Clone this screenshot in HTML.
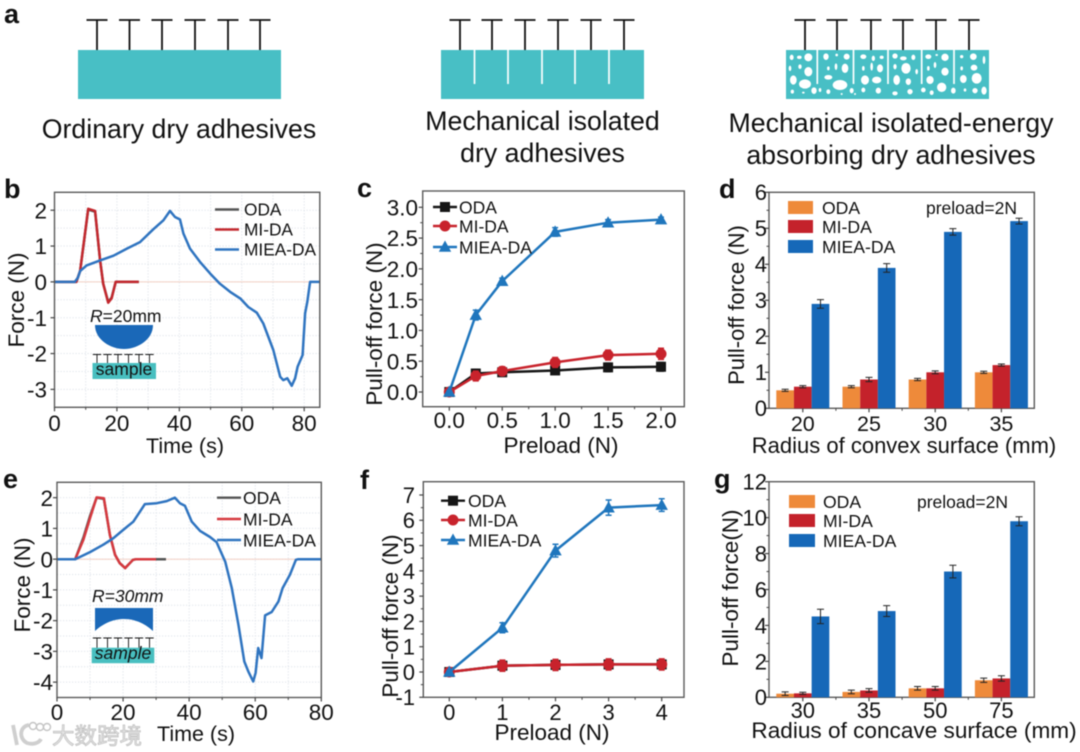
<!DOCTYPE html>
<html lang="en">
<head>
<meta charset="utf-8">
<title>Dry adhesive pull-off force figure</title>
<style>
html,body{margin:0;padding:0;background:#fff;width:1080px;height:752px;overflow:hidden}
svg{display:block;filter:blur(0.45px)}
text{font-family:"Liberation Sans","Noto Sans CJK SC",sans-serif;fill:#111}
</style>
</head>
<body>
<svg id="fig" xmlns="http://www.w3.org/2000/svg" width="1080" height="752" viewBox="0 0 1080 752">
  <rect width="1080" height="752" fill="#fff"/>
  <text x="4" y="23" font-size="27" font-weight="bold">a</text>
  <text x="4" y="198" font-size="27" font-weight="bold">b</text>
  <text x="357" y="197" font-size="27" font-weight="bold">c</text>
  <text x="719" y="198" font-size="27" font-weight="bold">d</text>
  <text x="3" y="488" font-size="27" font-weight="bold">e</text>
  <text x="360" y="489" font-size="27" font-weight="bold">f</text>
  <text x="714" y="488" font-size="27" font-weight="bold">g</text>

  <text x="179" y="138" font-size="26.7" text-anchor="middle">Ordinary dry adhesives</text>
  <text x="542.5" y="130" font-size="26.7" text-anchor="middle">Mechanical isolated</text>
  <text x="542.5" y="162" font-size="26.7" text-anchor="middle">dry adhesives</text>
  <text x="891" y="132" font-size="26.7" text-anchor="middle">Mechanical isolated-energy</text>
  <text x="891" y="164" font-size="26.7" text-anchor="middle">absorbing dry adhesives</text>

  <g id="schematics"></g>

  <g id="charts"></g>

  <g>
    <text x="90" y="322" font-size="17.5"><tspan font-style="italic">R</tspan>=20mm</text>
    <path d="M95,325 H153 C153,340 137,349 124,349 C111,349 95,340 95,325 Z" fill="#1a68b8"/>
    <rect x="92.5" y="363" width="63.5" height="16" fill="#48bfc0"/>
    <text x="124" y="375" font-size="17.5" text-anchor="middle">sample</text>
    <g id="insetT1"></g>
  </g>
  <g>
    <text x="92" y="602" font-size="17.5" font-style="italic">R=30mm</text>
    <path d="M95,608 H153 V631 C143,622 133,619 124,619 C115,619 105,622 95,631 Z" fill="#1a68b8"/>
    <rect x="91.7" y="647.7" width="62.6" height="15.5" fill="#48bfc0"/>
    <text x="123" y="659" font-size="17.5" font-style="italic" text-anchor="middle">sample</text>
    <g id="insetT2"></g>
  </g>

  <g>
    <path d="M13,725 L17,745 M29,725 C20,726 18,738 27,743 C33,745 39,743 41,739" fill="none" stroke="#cfcfcf" stroke-width="3.8"/>
    <circle cx="33" cy="726" r="3.5" fill="#fff" stroke="#c4c4c4" stroke-width="1.4"/>
    <circle cx="40" cy="727" r="3.5" fill="#fff" stroke="#c4c4c4" stroke-width="1.4"/>
    <circle cx="47" cy="727" r="3.5" fill="#fff" stroke="#c4c4c4" stroke-width="1.4"/>
    <text x="52" y="744" font-size="22.5" style="fill:#e6e6e6;stroke:#bdbdbd;stroke-width:.7">大数跨境</text>
  </g>
</svg>
<script>
/* ---------- panel b data ---------- */
const bOdaTime = [0,7,8.2,10.8,13,14.6,15.6,17.2,18.3,19.6,27];
const bOdaForce = [0,0,.3,2.02,1.96,.6,-.05,-.56,-.44,0,0];
const bMiTime = [0,7,8.2,10.8,13,14.6,15.6,17.2,18.3,19.6,27];
const bMiForce = [0,0,.3,2.04,1.98,.6,-.05,-.58,-.46,0,0];
const bMieaTime = [0,6.5,7.5,8.2,10.3,14.6,18.9,23.2,27.4,31.7,34.9,37,38.6,40.2,41.3,43.4,46.6,49.9,53,56.3,59.5,62.1,64.8,66.9,70.1,72.3,73.3,74.6,76,77.1,77.9,79.5,80.3,81,81.9,85];
const bMieaForce = [0,0,.12,.3,.46,.6,.73,.93,1.11,1.47,1.72,1.98,1.81,1.74,1.35,.93,.56,.23,-.05,-.28,-.46,-.7,-.86,-1.16,-1.9,-2.65,-2.74,-2.69,-2.9,-2.69,-2.37,-2.04,-.88,-.56,0,0];
const bXTicks = [0,20,40,60,80];
const bXMinor = [10,30,50,70];
const bYTicks = [2,1,0,-1,-2,-3];
const bYMinor = [2.5,1.5,.5,-.5,-1.5,-2.5,-3.5];

/* ---------- panel e data ---------- */
const eOdaTime = [0,5.5,8,10,12,14.2,16,17.6,19,20.6,23,24,33];
const eOdaForce = [0,0,.7,1.4,2,1.96,.79,.14,-.13,-.29,-.02,0,0];
const eMiTime = [0,5.5,8,10,12,14.2,16,17.6,19,20.6,23,24,30];
const eMiForce = [0,0,.63,1.33,2.01,1.98,.79,.14,-.13,-.29,-.02,0,0];
const eMieaTime = [0,5.5,10,14,17,20,23.1,26.6,30.2,33.2,35.7,37.2,38.7,40.8,43.3,46.3,48.3,50.9,52.9,54.9,56.7,57.9,59.4,60.1,60.9,61.9,63,65,67,68.3,70.5,72.3,73,80];
const eMieaForce = [0,0,.23,.47,.68,.95,1.22,1.79,1.82,1.89,2,1.82,1.74,1.22,.92,.72,.55,-.08,-.94,-2.13,-3.33,-3.65,-3.98,-3.7,-2.89,-3.22,-1.83,-1.72,-1.38,-.94,-.51,-.02,0,0];
const eXTicks = [0,20,40,60,80];
const eXMinor = [10,30,50,70];
const eYTicks = [2,1,0,-1,-2,-3,-4];
const eYMinor = [2.5,1.5,.5,-.5,-1.5,-2.5,-3.5,-4.5];

/* ---------- panel c data ---------- */
const cPreload = [0,.25,.5,1,1.5,2];
const cOda = [0,.3,.32,.35,.4,.41];
const cOdaErr = [.02,.07,.05,.05,.07,.07];
const cMi = [0,.26,.34,.48,.6,.62];
const cMiErr = [.02,.08,.07,.08,.08,.09];
const cMiea = [0,1.25,1.8,2.6,2.75,2.8];
const cMieaErr = [.02,.08,.05,.07,.05,.04];
const cXTicks = [0,.5,1,1.5,2];
const cXTickLabels = ['0.0','0.5','1.0','1.5','2.0'];
const cXMinor = [.25,.75,1.25,1.75];
const cYTicks = [0,.5,1,1.5,2,2.5,3];
const cYTickLabels = ['0.0','0.5','1.0','1.5','2.0','2.5','3.0'];
const cYMinor = [.25,.75,1.25,1.75,2.25,2.75];

/* ---------- panel f data ---------- */
const fPreload = [0,1,2,3,4];
const fOda = [0,.25,.28,.3,.3];
const fOdaErr = [.05,.15,.15,.15,.15];
const fMi = [0,.25,.28,.3,.3];
const fMiErr = [.05,.22,.22,.22,.22];
const fMiea = [0,1.75,4.8,6.5,6.6];
const fMieaErr = [.05,.2,.25,.3,.25];
const fXTicks = [0,1,2,3,4];
const fXMinor = [.5,1.5,2.5,3.5];
const fYTicks = [-1,0,1,2,3,4,5,6,7];
const fYMinor = [-.5,.5,1.5,2.5,3.5,4.5,5.5,6.5];

/* ---------- panel d data ---------- */
const dCategories = ['20','25','30','35'];
const dOda = [.5,.6,.8,1];
const dOdaErr = [.03,.03,.03,.03];
const dMi = [.6,.8,1,1.2];
const dMiErr = [.03,.06,.04,.03];
const dMiea = [2.9,3.9,4.9,5.2];
const dMieaErr = [.12,.12,.09,.08];
const dYTicks = [0,1,2,3,4,5,6];
const dYMinor = [.5,1.5,2.5,3.5,4.5,5.5];

/* ---------- panel g data ---------- */
const gCategories = ['30','35','50','75'];
const gOda = [.2,.3,.5,.95];
const gOdaErr = [.1,.1,.1,.12];
const gMi = [.22,.38,.5,1.05];
const gMiErr = [.06,.1,.1,.15];
const gMiea = [4.5,4.8,7,9.8];
const gMieaErr = [.4,.3,.35,.25];
const gYTicks = [0,2,4,6,8,10,12];
const gYMinor = [1,3,5,7,9,11];

const seriesNames = ['ODA','MI-DA','MIEA-DA'];

const NS = 'http://www.w3.org/2000/svg';
function make(tag, attrs, parent){
  const n = document.createElementNS(NS, tag);
  for (const k in attrs) n.setAttribute(k, attrs[k]);
  parent.appendChild(n);
  return n;
}
function scale(d0,d1,r0,r1){ return v => r0 + (v-d0)*(r1-r0)/(d1-d0); }
function label(parent, name, x, y, size, anchor, str, rot){
  const el = make('text', {x:x, y:y, 'font-size':size, 'text-anchor':anchor}, parent);
  
  
  if (rot) el.setAttribute('transform', 'rotate(-90 '+x+' '+y+')');
  el.textContent = str;
  return el;
}
function panelGroup(name){
  const el = make('g', {}, document.getElementById('charts'));
  
  
  return el;
}
function grid(g, p, xVals, yVals){
  xVals.forEach(v => {
    const el = make('line', {x1:p.x(v), x2:p.x(v), y1:p.top, y2:p.bottom, stroke:'#dfe4ea', 'stroke-width':1, 'stroke-dasharray':'1.2 1.8'}, g);
    
    
  });
  yVals.forEach(v => {
    const el = make('line', {x1:p.left, x2:p.right, y1:p.y(v), y2:p.y(v), stroke:'#dfe4ea', 'stroke-width':1, 'stroke-dasharray':'1.2 1.8'}, g);
    
    
  });
}
function frame(g, p){
  const el = make('rect', {x:p.left, y:p.top, width:p.right-p.left, height:p.bottom-p.top, fill:'none', stroke:'#5a5a5a', 'stroke-width':1.4}, g);
  
  
}
function xAxis(g, p, positions, labels, minor, size, base){
  positions.forEach((px,i) => {
    const t = make('line', {x1:px, x2:px, y1:p.bottom, y2:p.bottom+4, stroke:'#444', 'stroke-width':1.2}, g);
    
    
    label(g, 'x-tick-label', px, base, size, 'middle', labels[i]);
  });
  minor.forEach(px => {
    const t = make('line', {x1:px, x2:px, y1:p.bottom, y2:p.bottom+2.5, stroke:'#444', 'stroke-width':1}, g);
    
    
  });
}
function yAxis(g, p, ticks, labels, minor, size, edge){
  ticks.forEach((v,i) => {
    const t = make('line', {x1:p.left-4, x2:p.left, y1:p.y(v), y2:p.y(v), stroke:'#444', 'stroke-width':1.2}, g);
    
    
    label(g, 'y-tick-label', edge, p.y(v)+size*.36, size, 'end', labels[i]);
  });
  minor.forEach(v => {
    const t = make('line', {x1:p.left-2.5, x2:p.left, y1:p.y(v), y2:p.y(v), stroke:'#444', 'stroke-width':1}, g);
    
    
  });
}
function curve(g, p, ts, fs, color, width, name){
  const pts = ts.map((t,i) => p.x(t).toFixed(1)+','+p.y(fs[i]).toFixed(1)).join(' ');
  const el = make('polyline', {points:pts, fill:'none', stroke:color, 'stroke-width':width, 'stroke-linejoin':'round'}, g);
  
  
}
function marker(g, kind, cx, cy, color, name){
  let el;
  if (kind === 0) el = make('rect', {x:cx-5, y:cy-5, width:10, height:10, fill:color}, g);
  else if (kind === 1) el = make('circle', {cx:cx, cy:cy, r:5.5, fill:color}, g);
  else el = make('path', {d:'M'+cx+','+(cy-6.5)+' L'+(cx+6.2)+','+(cy+4.8)+' L'+(cx-6.2)+','+(cy+4.8)+' Z', fill:color}, g);
  
  
}
function pointSeries(g, p, xs, ys, errs, kind, color, name){
  curve(g, p, xs, ys, color, 2.5, name+'-line');
  xs.forEach((x,i) => {
    const cx = p.x(x), hi = p.y(ys[i]+errs[i]), lo = p.y(ys[i]-errs[i]);
    const e = make('path', {d:'M'+cx+','+hi+' V'+lo+' M'+(cx-3)+','+hi+' H'+(cx+3)+' M'+(cx-3)+','+lo+' H'+(cx+3), fill:'none', stroke:color, 'stroke-width':1.5}, g);
    
    
    marker(g, kind, cx, p.y(ys[i]), color, name+'-point');
  });
}
function lineLegend(g, x0, x1, textX, rows, size, colors, kinds){
  seriesNames.forEach((n,i) => {
    const l = make('line', {x1:x0, x2:x1, y1:rows[i], y2:rows[i], stroke:colors[i], 'stroke-width':2.4}, g);
    
    
    if (kinds) marker(g, kinds[i], (x0+x1)/2, rows[i], colors[i], 'legend-marker-'+n.toLowerCase());
    label(g, 'legend-label-'+n.toLowerCase(), textX, rows[i]+size*.36, size, 'start', n);
  });
}
function barChart(g, p, cats, sets, errs, colors, tickSize, tickBase){
  const groupLeft = 776.3, groupStep = 66.2, barW = 17.67;
  const centers = cats.map((c,i) => groupLeft + i*groupStep + barW*1.5);
  const minors = cats.map((c,i) => groupLeft + i*groupStep + barW*3 + (groupStep-barW*3)/2).slice(0,3);
  xAxis(g, p, centers, cats, minors, tickSize, tickBase);
  sets.forEach((vals,s) => {
    vals.forEach((v,i) => {
      const x = groupLeft + i*groupStep + s*barW;
      const b = make('rect', {x:x, y:p.y(v), width:barW, height:p.y(0)-p.y(v), fill:colors[s]}, g);
      
      
      const cx = x+barW/2, hi = p.y(v+errs[s][i]), lo = p.y(Math.max(0,v-errs[s][i]));
      const e = make('path', {d:'M'+cx+','+hi+' V'+lo+' M'+(cx-3.5)+','+hi+' H'+(cx+3.5)+' M'+(cx-3.5)+','+lo+' H'+(cx+3.5), fill:'none', stroke:'#222', 'stroke-width':1}, g);
      
      
    });
  });
}
function barLegend(g, x, w, h, tops, textX, size, colors){
  seriesNames.forEach((n,i) => {
    const r = make('rect', {x:x, y:tops[i], width:w, height:h, fill:colors[i]}, g);
    
    
    label(g, 'legend-label-'+n.toLowerCase(), textX, tops[i]+h/2+size*.36, size, 'start', n);
  });
}

/* ---------- panel b ---------- */
(function(){
  const g = panelGroup('force-time-chart-b');
  const p = {left:54.5, right:319.8, top:192.3, bottom:407.3};
  p.x = scale(0,85,p.left,p.right); p.y = scale(-3.5,2.5,p.bottom,p.top);
  grid(g, p, bXTicks.concat(bXMinor), bYTicks.concat(bYMinor));
  curve(g, p, [0,85], [0,0], '#f3d0c4', 1, 'zero-reference-line');
  curve(g, p, bOdaTime, bOdaForce, '#555555', 2.5, 'series-oda');
  curve(g, p, bMiTime, bMiForce, '#c3282e', 2.5, 'series-mi-da');
  curve(g, p, bMieaTime, bMieaForce, '#2f74c0', 2.5, 'series-miea-da');
  frame(g, p);
  xAxis(g, p, bXTicks.map(p.x), bXTicks.map(String), bXMinor.map(p.x), 22.5, 431);
  yAxis(g, p, bYTicks, bYTicks.map(String), [], 22.5, 47);
  label(g, 'x-axis-title', 185, 453, 21.5, 'middle', 'Time (s)');
  label(g, 'y-axis-title', 24, 300, 22.5, 'middle', 'Force (N)', true);
  lineLegend(g, 215, 239, 244, [209.5,229.5,249.5], 17.3, ['#555555','#c3282e','#2f74c0']);
})();

/* ---------- panel e ---------- */
(function(){
  const g = panelGroup('force-time-chart-e');
  const p = {left:57, right:321.3, top:482.3, bottom:697.5};
  p.x = scale(0,80,p.left,p.right); p.y = scale(-4.5,2.5,p.bottom,p.top);
  grid(g, p, eXTicks.concat(eXMinor), eYTicks.concat(eYMinor));
  curve(g, p, [0,80], [0,0], '#f3d0c4', 1, 'zero-reference-line');
  curve(g, p, eOdaTime, eOdaForce, '#555555', 2.5, 'series-oda');
  curve(g, p, eMiTime, eMiForce, '#d6393f', 2.5, 'series-mi-da');
  curve(g, p, eMieaTime, eMieaForce, '#2f74c0', 2.5, 'series-miea-da');
  frame(g, p);
  xAxis(g, p, eXTicks.map(p.x), eXTicks.map(String), eXMinor.map(p.x), 22.5, 720);
  yAxis(g, p, eYTicks, eYTicks.map(String), [], 22.5, 53);
  label(g, 'x-axis-title', 196, 741, 21.5, 'middle', 'Time (s)');
  label(g, 'y-axis-title', 30, 585, 22.5, 'middle', 'Force (N)', true);
  lineLegend(g, 217, 241, 243, [497.7,519,540], 17.5, ['#555555','#d6393f','#2f74c0']);
})();

/* ---------- panel c ---------- */
(function(){
  const g = panelGroup('pull-off-chart-c');
  const p = {left:422.7, right:684.3, top:191, bottom:406.7};
  const sx = scale(0,2,449.3,661), sy = scale(0,3,392,207.3);
  p.x = sx; p.y = sy;
  frame(g, p);
  xAxis(g, p, cXTicks.map(sx), cXTickLabels, cXMinor.map(sx), 22.5, 428);
  yAxis(g, p, cYTicks, cYTickLabels, cYMinor, 22.5, 418);
  pointSeries(g, p, cPreload, cOda, cOdaErr, 0, '#161616', 'series-oda');
  pointSeries(g, p, cPreload, cMi, cMiErr, 1, '#c8232c', 'series-mi-da');
  pointSeries(g, p, cPreload, cMiea, cMieaErr, 2, '#1f76bd', 'series-miea-da');
  label(g, 'x-axis-title', 561, 453, 22.5, 'middle', 'Preload (N)');
  label(g, 'y-axis-title', 382, 324, 22.5, 'middle', 'Pull-off force (N)', true);
  lineLegend(g, 433, 457, 459, [207,226,247], 17.5, ['#161616','#c8232c','#1f76bd'], [0,1,2]);
})();

/* ---------- panel f ---------- */
(function(){
  const g = panelGroup('pull-off-chart-f');
  const p = {left:423.3, right:684, top:481.7, bottom:697.3};
  const sx = scale(0,4,449.3,661.7), sy = scale(0,7,672,495);
  p.x = sx; p.y = sy;
  frame(g, p);
  xAxis(g, p, fXTicks.map(sx), fXTicks.map(String), fXMinor.map(sx), 22, 720);
  yAxis(g, p, fYTicks, fYTicks.map(String), fYMinor, 22, 415);
  pointSeries(g, p, fPreload, fOda, fOdaErr, 0, '#161616', 'series-oda');
  pointSeries(g, p, fPreload, fMi, fMiErr, 1, '#c8232c', 'series-mi-da');
  pointSeries(g, p, fPreload, fMiea, fMieaErr, 2, '#1f76bd', 'series-miea-da');
  label(g, 'x-axis-title', 552, 740, 22.5, 'middle', 'Preload (N)');
  label(g, 'y-axis-title', 398, 616, 22.5, 'middle', 'Pull-off force (N)', true);
  lineLegend(g, 441, 465, 468, [500.7,520,540], 17.6, ['#161616','#c8232c','#1f76bd'], [0,1,2]);
})();

/* ---------- panel d ---------- */
(function(){
  const g = panelGroup('convex-bar-chart-d');
  const p = {left:769, right:1034.3, top:192.3, bottom:408.3};
  p.y = scale(0,6,p.bottom,p.top);
  const colors = ['#ee8a3a','#c4222b','#1668b8'];
  frame(g, p);
  barChart(g, p, dCategories, [dOda,dMi,dMiea], [dOdaErr,dMiErr,dMieaErr], colors, 21.5, 431);
  yAxis(g, p, dYTicks, dYTicks.map(String), dYMinor, 22, 767);
  label(g, 'x-axis-title', 904, 453, 22, 'middle', 'Radius of convex surface (mm)');
  label(g, 'y-axis-title', 744, 305, 22, 'middle', 'Pull-off force (N)', true);
  barLegend(g, 788, 25, 13, [201,220,240], 822, 17.6, colors);
  label(g, 'preload-annotation', 926, 214, 17.5, 'start', 'preload=2N');
})();

/* ---------- panel g ---------- */
(function(){
  const g = panelGroup('concave-bar-chart-g');
  const p = {left:769, right:1034.3, top:481.7, bottom:697.3};
  p.y = scale(0,12,p.bottom,p.top);
  const colors = ['#ee8a3a','#c4222b','#1668b8'];
  frame(g, p);
  barChart(g, p, gCategories, [gOda,gMi,gMiea], [gOdaErr,gMiErr,gMieaErr], colors, 22, 718);
  yAxis(g, p, gYTicks, gYTicks.map(String), gYMinor, 22, 767);
  label(g, 'x-axis-title', 914, 738, 22.6, 'middle', 'Radius of concave surface (mm)');
  label(g, 'y-axis-title', 738, 588, 22.5, 'middle', 'Pull-off force(N)', true);
  barLegend(g, 789, 26, 13, [495,514,534], 823, 17.6, colors);
  label(g, 'preload-annotation', 917, 508, 17.5, 'start', 'preload=2N');
})();

/* ---------- schematics ---------- */
(function(){
  const g = document.getElementById('schematics');
  const teal = '#48bfc5';
  function fibers(parent, xs, top, bottom, half, sw, name){
    xs.forEach(x => {
      const f = make('path', {d:'M'+(x-half)+','+top+' H'+(x+half)+' M'+x+','+top+' V'+bottom, fill:'none', stroke:'#111', 'stroke-width':sw}, parent);
      
      
    });
  }
  function block(x, name){
    const r = make('rect', {x:x, y:50, width:203, height:49, fill:teal}, g);
    
    
  }
  block(78, 'ordinary-adhesive-block');
  fibers(g, [97,129.5,162,195,228,260], 20, 50, 10.5, 1.8, 'ordinary-fiber');
  block(441, 'isolated-adhesive-block');
  fibers(g, [460,492,525,558,591,624], 20, 50, 10.5, 1.8, 'isolated-fiber');
  [474.5,508,542,575,609].forEach(x => {
    const s = make('line', {x1:x, x2:x, y1:50, y2:84, stroke:'#fff', 'stroke-width':1.7}, g);
    
    
  });
  block(786, 'energy-absorbing-adhesive-block');
  fibers(g, [805,837,871,903,936,969], 20, 50, 10.5, 1.8, 'energy-fiber');
  [817.3,853.5,888,921.7,954].forEach(x => {
    const s = make('line', {x1:x, x2:x, y1:50, y2:84, stroke:'#fff', 'stroke-width':1.7}, g);
    
    
  });
  const pores = [
    [325,172,12,12],[298,172,7,5],[275,172,6,8],[270,205,4,8],[300,200,5,7],[325,215,12,14],[280,240,10,14],[315,252,18,14],[342,272,8,10],[277,275,5,6],[310,278,4,3],
    [378,170,8,10],[410,165,4,4],[440,170,9,9],[408,200,4,10],[385,205,4,6],[435,205,10,14],[385,232,12,7],[420,255,22,15],[360,270,4,6],[385,275,6,7],[455,272,6,8],[425,282,3,3],
    [490,170,9,7],[520,175,5,8],[545,172,6,5],[490,205,4,7],[515,200,4,12],[540,205,9,12],[495,240,12,14],[530,240,14,10],[490,270,6,7],[535,272,8,9],[465,282,3,3],
    [585,168,8,8],[610,175,10,6],[640,172,6,8],[585,200,5,8],[618,205,14,16],[650,215,4,8],[590,240,10,15],[625,245,8,10],[585,280,8,6],[630,275,8,8],[670,270,7,7],
    [685,170,9,7],[735,172,11,11],[710,165,4,3],[685,205,4,7],[705,195,4,9],[735,215,11,12],[690,240,11,12],[725,262,14,14],[695,278,6,7],[760,272,7,9],
    [785,170,5,5],[820,170,10,10],[852,180,4,12],[785,205,4,6],[822,203,10,9],[830,235,15,16],[790,237,10,12],[795,270,4,5],[825,272,8,8],[852,272,8,12]
  ];
  pores.forEach(q => {
    const e = make('ellipse', {cx:700+q[0]/3, cy:q[1]/3, rx:q[2]/3, ry:q[3]/3, fill:'#fff'}, g);
    
    
  });
  const i1 = document.getElementById('insetT1');
  fibers(i1, [97,107.5,118,128.5,139,149.5], 354.5, 363, 4.2, .9, 'inset-fiber');
  const i2 = document.getElementById('insetT2');
  fibers(i2, [97,107.5,118,128.5,139,149.5], 638, 647.7, 4.2, .9, 'inset-fiber');
})();
</script>
</body>
</html>
